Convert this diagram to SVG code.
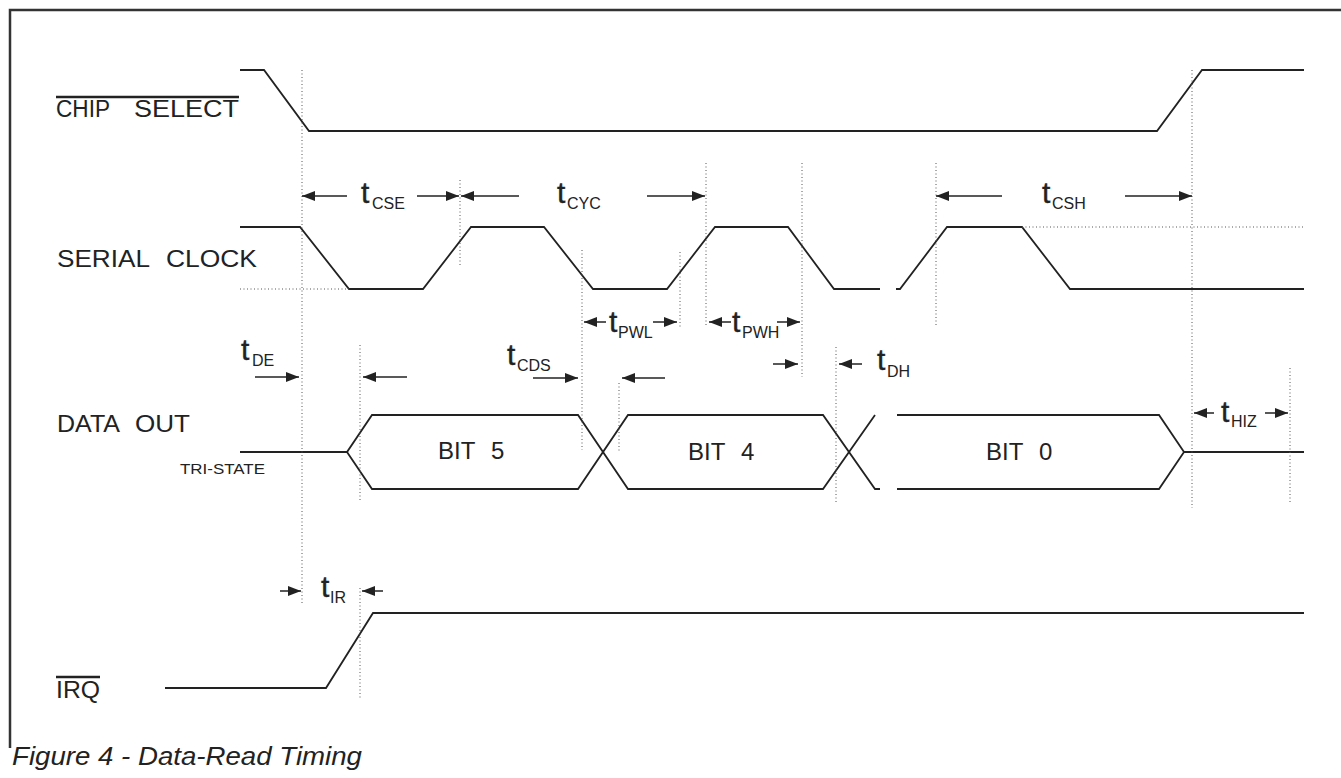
<svg xmlns="http://www.w3.org/2000/svg" width="1341" height="778" viewBox="0 0 1341 778">
<style>
  .sig { fill: none; stroke: #222; stroke-width: 1.8; stroke-linejoin: miter; }
  .dot { fill: none; stroke: #555; stroke-width: 1; stroke-dasharray: 1 2.5; }
  .arr { fill: none; stroke: #222; stroke-width: 1.5; marker-end: url(#ah); }
  .lbl { font-family: "Liberation Sans", Arial, sans-serif; font-size: 24.5px; fill: #222; }
  .bit { font-family: "Liberation Sans", Arial, sans-serif; font-size: 24px; fill: #222; }
  .tm { font-family: "Liberation Sans", Arial, sans-serif; font-size: 30px; fill: #222; stroke: #222; stroke-width: 0.4; }
  .sub { font-family: "Liberation Sans", Arial, sans-serif; font-size: 16px; fill: #222; }
  .cap { font-family: "Liberation Sans", Arial, sans-serif; font-size: 25px; font-style: italic; fill: #222; }
  .frame { fill: none; stroke: #333; stroke-width: 2.5; }
  .ovl { stroke: #222; stroke-width: 2.5; }
</style>
<defs>
  <marker id="ah" markerUnits="userSpaceOnUse" markerWidth="15" markerHeight="11" refX="13" refY="5.5" orient="auto">
    <path d="M0,0.5 L13,5.5 L0,10.5 Z" fill="#222"/>
  </marker>
</defs>
<rect width="1341" height="778" fill="#fff"/>
<path class="frame" d="M10,748 L10,10 L1341,10"/>

<g id="chip-select">
  <text class="lbl" y="117"><tspan x="56" textLength="54" lengthAdjust="spacingAndGlyphs">CHIP</tspan><tspan x="134" textLength="105" lengthAdjust="spacingAndGlyphs">SELECT</tspan></text>
  <line class="ovl" x1="56" y1="97" x2="239" y2="97"/>
  <polyline class="sig" points="240,70 264,70 309,131 1157,131 1202,70 1304,70"/>
</g>

<g id="serial-clock">
  <text class="lbl" y="267"><tspan x="57" textLength="93" lengthAdjust="spacingAndGlyphs">SERIAL</tspan><tspan x="166" textLength="91" lengthAdjust="spacingAndGlyphs">CLOCK</tspan></text>
  <polyline class="sig" points="240,227 300,227 349,289 423,289 471,227 544,227 593,289 667,289 715,227 788,227 834,289 880,289"/>
  <polyline class="sig" points="896,289 900,289 947,227 1022,227 1070,289 1304,289"/>
</g>

<g id="data-out">
  <text class="lbl" y="432"><tspan x="57" textLength="63" lengthAdjust="spacingAndGlyphs">DATA</tspan><tspan x="135" textLength="55" lengthAdjust="spacingAndGlyphs">OUT</tspan></text>
  <text class="lbl" x="180" y="474" style="font-size:15.5px" textLength="85" lengthAdjust="spacingAndGlyphs">TRI-STATE</text>
  <polyline class="sig" points="240,452 347,452 372,415 578,415 628,489 823,489 875,415"/>
  <polyline class="sig" points="347,452 372,489 578,489 628,415 823,415 875,489 880,489"/>
  <polyline class="sig" points="897,415 1159,415 1184,452 1159,489 897,489"/>
  <line class="sig" x1="1184" y1="452" x2="1304" y2="452"/>
  <text class="bit" y="459"><tspan x="438">BIT</tspan><tspan x="491">5</tspan></text>
  <text class="bit" y="460"><tspan x="688">BIT</tspan><tspan x="741">4</tspan></text>
  <text class="bit" y="460"><tspan x="986">BIT</tspan><tspan x="1039">0</tspan></text>
</g>

<g id="irq">
  <text class="lbl" x="56" y="698" textLength="44" lengthAdjust="spacingAndGlyphs">IRQ</text>
  <line class="ovl" x1="56" y1="677" x2="100" y2="677"/>
  <polyline class="sig" points="165,688 326,688 373,613 1304,613"/>
</g>

<g id="guides">
  <line class="dot" x1="302" y1="70" x2="302" y2="603"/>
  <line class="dot" x1="460" y1="180" x2="460" y2="267"/>
  <line class="dot" x1="706" y1="163" x2="706" y2="327"/>
  <line class="dot" x1="582" y1="250" x2="582" y2="450"/>
  <line class="dot" x1="680" y1="252" x2="680" y2="327"/>
  <line class="dot" x1="802" y1="163" x2="802" y2="377"/>
  <line class="dot" x1="360" y1="345" x2="360" y2="500"/>
  <line class="dot" x1="360" y1="588" x2="360" y2="698"/>
  <line class="dot" x1="619" y1="383" x2="619" y2="452"/>
  <line class="dot" x1="836" y1="347" x2="836" y2="502"/>
  <line class="dot" x1="936" y1="163" x2="936" y2="327"/>
  <line class="dot" x1="1192" y1="70" x2="1192" y2="508"/>
  <line class="dot" x1="1290" y1="368" x2="1290" y2="503"/>
  <line class="dot" x1="240" y1="289" x2="349" y2="289"/>
  <line class="dot" x1="1022" y1="227" x2="1304" y2="227"/>
</g>

<g id="connectors">
  <line class="arr" x1="347" y1="196" x2="302" y2="196"/>
  <line class="arr" x1="417" y1="196" x2="459" y2="196"/>
  <line class="arr" x1="519" y1="196" x2="461" y2="196"/>
  <line class="arr" x1="647" y1="196" x2="705" y2="196"/>
  <line class="arr" x1="1002" y1="196" x2="936" y2="196"/>
  <line class="arr" x1="1125" y1="196" x2="1192" y2="196"/>
  <line class="arr" x1="255" y1="377" x2="299" y2="377"/>
  <line class="arr" x1="407" y1="377" x2="363" y2="377"/>
  <line class="arr" x1="533" y1="378" x2="578" y2="378"/>
  <line class="arr" x1="665" y1="378" x2="622" y2="378"/>
  <line class="arr" x1="606" y1="322" x2="584" y2="322"/>
  <line class="arr" x1="653" y1="322" x2="677" y2="322"/>
  <line class="arr" x1="731" y1="322" x2="709" y2="322"/>
  <line class="arr" x1="777" y1="322" x2="800" y2="322"/>
  <line class="arr" x1="773" y1="364" x2="798" y2="364"/>
  <line class="arr" x1="862" y1="364" x2="839" y2="364"/>
  <line class="arr" x1="1214" y1="413" x2="1194" y2="413"/>
  <line class="arr" x1="1265" y1="413" x2="1288" y2="413"/>
  <line class="arr" x1="280" y1="591" x2="301" y2="591"/>
  <line class="arr" x1="383" y1="591" x2="362" y2="591"/>
</g>

<g id="timing-labels">
  <text class="tm" x="361" y="203">t</text><text class="sub" x="372" y="209">CSE</text>
  <text class="tm" x="557" y="203">t</text><text class="sub" x="567" y="209">CYC</text>
  <text class="tm" x="1042" y="203">t</text><text class="sub" x="1052" y="209">CSH</text>
  <text class="tm" x="241" y="360">t</text><text class="sub" x="252" y="366">DE</text>
  <text class="tm" x="507" y="365">t</text><text class="sub" x="517" y="371">CDS</text>
  <text class="tm" x="609" y="332">t</text><text class="sub" x="618" y="338">PWL</text>
  <text class="tm" x="732" y="332">t</text><text class="sub" x="742" y="338">PWH</text>
  <text class="tm" x="877" y="370">t</text><text class="sub" x="887" y="377">DH</text>
  <text class="tm" x="1221" y="422">t</text><text class="sub" x="1231" y="427">HIZ</text>
  <text class="tm" x="321" y="597">t</text><text class="sub" x="330" y="603">IR</text>
</g>

<text class="cap" x="12" y="765" textLength="350" lengthAdjust="spacingAndGlyphs">Figure 4 - Data-Read Timing</text>
</svg>
